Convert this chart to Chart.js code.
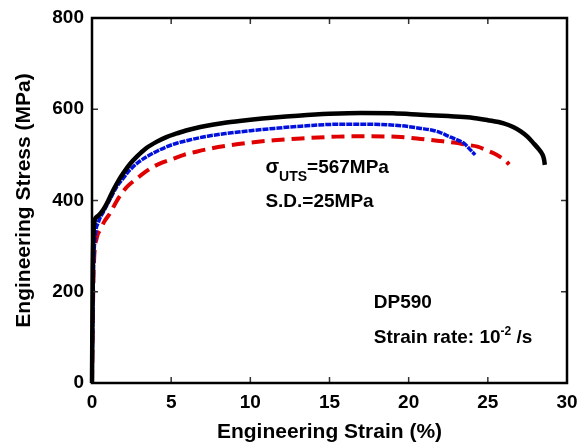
<!DOCTYPE html>
<html>
<head>
<meta charset="utf-8">
<script src="https://cdn.jsdelivr.net/npm/chart.js@4"></script>
<style>
  body { margin: 0; background: #fff; }
  canvas { display: block; }
</style>
</head>
<body>
<canvas id="myChart" width="581" height="443"></canvas>
<script>
// specimen curves (strain %, stress MPa)
let strainA = [0, 0.05, 0.15, 0.3, 0.55, 0.82, 1.1, 1.35, 1.65, 1.98, 2.4, 2.83, 3.4, 4.1, 4.7, 5.36, 6.0, 6.84, 7.6, 8.5, 10, 11.5, 13, 15, 17, 19, 20.76, 22.5, 23.9, 25, 26, 26.6, 27.1, 27.5, 27.9, 28.2, 28.46, 28.55, 28.6];
let stressA = [0, 250, 352, 364, 372, 386, 405, 423, 442, 460, 480, 496, 514, 529, 539, 547, 554, 561, 566, 571, 577, 582, 586, 590, 592, 591, 588, 585, 582, 576, 569, 561, 551, 540, 525, 513, 500, 490, 478];

let strainB = [0, 0.1, 0.2, 0.4, 0.72, 1.1, 1.56, 2.0, 2.4, 2.9, 3.46, 4.1, 4.73, 5.4, 6.2, 7.3, 8.5, 10, 11.5, 13.2, 15.5, 17.4, 19.5, 20.76, 21.5, 22.0, 22.5, 22.85, 23.5, 23.9, 24.2];
let stressB = [0, 250, 320, 352, 375, 400, 430, 450, 467, 483, 496, 508, 518, 526, 533, 541, 547, 553, 558, 563, 567, 567, 564, 558, 554, 549, 541, 536, 525, 511, 500];

let strainC = [0, 0.1, 0.3, 0.5, 0.8, 1.14, 1.5, 1.88, 2.3, 2.83, 3.35, 3.88, 4.5, 5.15, 5.8, 6.6, 7.5, 8.5, 10, 11.5, 13.2, 15.5, 17.4, 19.5, 20.76, 21.8, 22.85, 23.7, 24.35, 25, 25.4, 25.8, 26.1, 26.35];
let stressC = [0, 240, 318, 335, 355, 372, 395, 416, 433, 448, 462, 474, 484, 492, 500, 507, 514, 520, 527, 532, 536, 540, 541, 539, 535, 531, 527, 522, 518, 509, 503, 495, 488, 479];

let xTicks = [0, 5, 10, 15, 20, 25, 30];
let yTicks = [0, 200, 400, 600, 800];

const pts = (xs, ys) => xs.map((x, i) => ({x: x, y: ys[i]}));
const FONT = "'Liberation Sans', Arial, Helvetica, sans-serif";

// inward ticks on all four sides + frame + text notes
const framePlugin = {
  id: 'frame',
  afterDraw(chart) {
    const c = chart.ctx;
    const a = chart.chartArea;
    const xs = chart.scales.x, ys = chart.scales.y;
    c.save();
    c.strokeStyle = '#333';
    c.lineWidth = 1.5;
    c.beginPath();
    xTicks.slice(1, -1).forEach(v => {
      const px = xs.getPixelForValue(v);
      c.moveTo(px, a.bottom); c.lineTo(px, a.bottom - 6);
      c.moveTo(px, a.top); c.lineTo(px, a.top + 6);
    });
    yTicks.slice(1, -1).forEach(v => {
      const py = ys.getPixelForValue(v);
      c.moveTo(a.left, py); c.lineTo(a.left + 6, py);
      c.moveTo(a.right, py); c.lineTo(a.right - 6, py);
    });
    c.stroke();
    c.strokeStyle = '#000';
    c.lineWidth = 2.5;
    c.strokeRect(a.left, a.top, a.right - a.left, a.bottom - a.top);

    c.fillStyle = '#000';
    c.textBaseline = 'alphabetic';
    c.textAlign = 'left';
    let x0 = xs.getPixelForValue(10.95);
    let yb = ys.getPixelForValue(460);
    c.font = 'bold 20px ' + FONT;
    c.fillText('σ', x0, yb);
    let x1 = x0 + c.measureText('σ').width;
    c.font = 'bold 14px ' + FONT;
    c.fillText('UTS', x1, yb + 8);
    let x2 = x1 + c.measureText('UTS').width;
    c.font = 'bold 19px ' + FONT;
    c.fillText('=567MPa', x2, yb);
    c.fillText('S.D.=25MPa', x0, ys.getPixelForValue(385));

    let x3 = xs.getPixelForValue(17.8);
    c.fillText('DP590', x3, ys.getPixelForValue(164));
    let yb2 = ys.getPixelForValue(88);
    c.fillText('Strain rate: 10', x3, yb2);
    let x4 = x3 + c.measureText('Strain rate: 10').width;
    c.font = 'bold 12px ' + FONT;
    c.fillText('-2', x4, yb2 - 8);
    let x5 = x4 + c.measureText('-2').width;
    c.font = 'bold 19px ' + FONT;
    c.fillText(' /s', x5, yb2);
    c.restore();
  }
};

let ctx = document.getElementById('myChart').getContext('2d');
let myChart = new Chart(ctx, {
  type: 'line',
  data: {
    datasets: [{
      data: pts(strainA, stressA),
      borderColor: '#000',
      borderWidth: 4.5,
      order: 0,
    }, {
      data: pts(strainB, stressB),
      borderColor: '#0010dd',
      borderWidth: 3.5,
      borderDash: [6, 1],
      order: 1,
    }, {
      data: pts(strainC, stressC),
      borderColor: '#e00000',
      borderWidth: 4,
      borderDash: [13, 7],
      order: 2,
    }]
  },
  options: {
    responsive: false,
    animation: false,
    layout: { padding: { top: 18, right: 14, left: 0, bottom: 0 } },
    elements: {
      point: { radius: 0 },
      line: { cubicInterpolationMode: 'monotone', fill: false, borderCapStyle: 'butt' }
    },
    datasets: { line: { clip: false } },
    plugins: { legend: { display: false }, tooltip: { enabled: false } },
    scales: {
      x: {
        type: 'linear',
        min: 0, max: 30,
        afterFit: (s) => { s.height = 60; s.paddingLeft = 0; s.paddingRight = 0; },
        afterBuildTicks: (s) => { s.ticks = xTicks.map(v => ({value: v})); },
        grid: { display: false, drawTicks: false },
        border: { display: false },
        ticks: { padding: 8, color: '#000', font: { family: FONT, size: 19, weight: 'bold' } },
        title: {
          display: true,
          text: 'Engineering Strain (%)',
          color: '#000',
          padding: 0,
          font: { family: FONT, size: 21, weight: 'bold', lineHeight: 1 }
        }
      },
      y: {
        type: 'linear',
        min: 0, max: 800,
        afterFit: (s) => { s.width = 92; s.paddingTop = 0; s.paddingBottom = 0; },
        afterBuildTicks: (s) => { s.ticks = yTicks.map(v => ({value: v})); },
        grid: { display: false, drawTicks: false },
        border: { display: false },
        ticks: { padding: 8, color: '#000', font: { family: FONT, size: 19, weight: 'bold' } },
        title: {
          display: true,
          text: 'Engineering Stress (MPa)',
          color: '#000',
          padding: { top: 13.5, bottom: 0 },
          font: { family: FONT, size: 21, weight: 'bold', lineHeight: 1 }
        }
      }
    }
  },
  plugins: [framePlugin]
});
</script>
</body>
</html>
